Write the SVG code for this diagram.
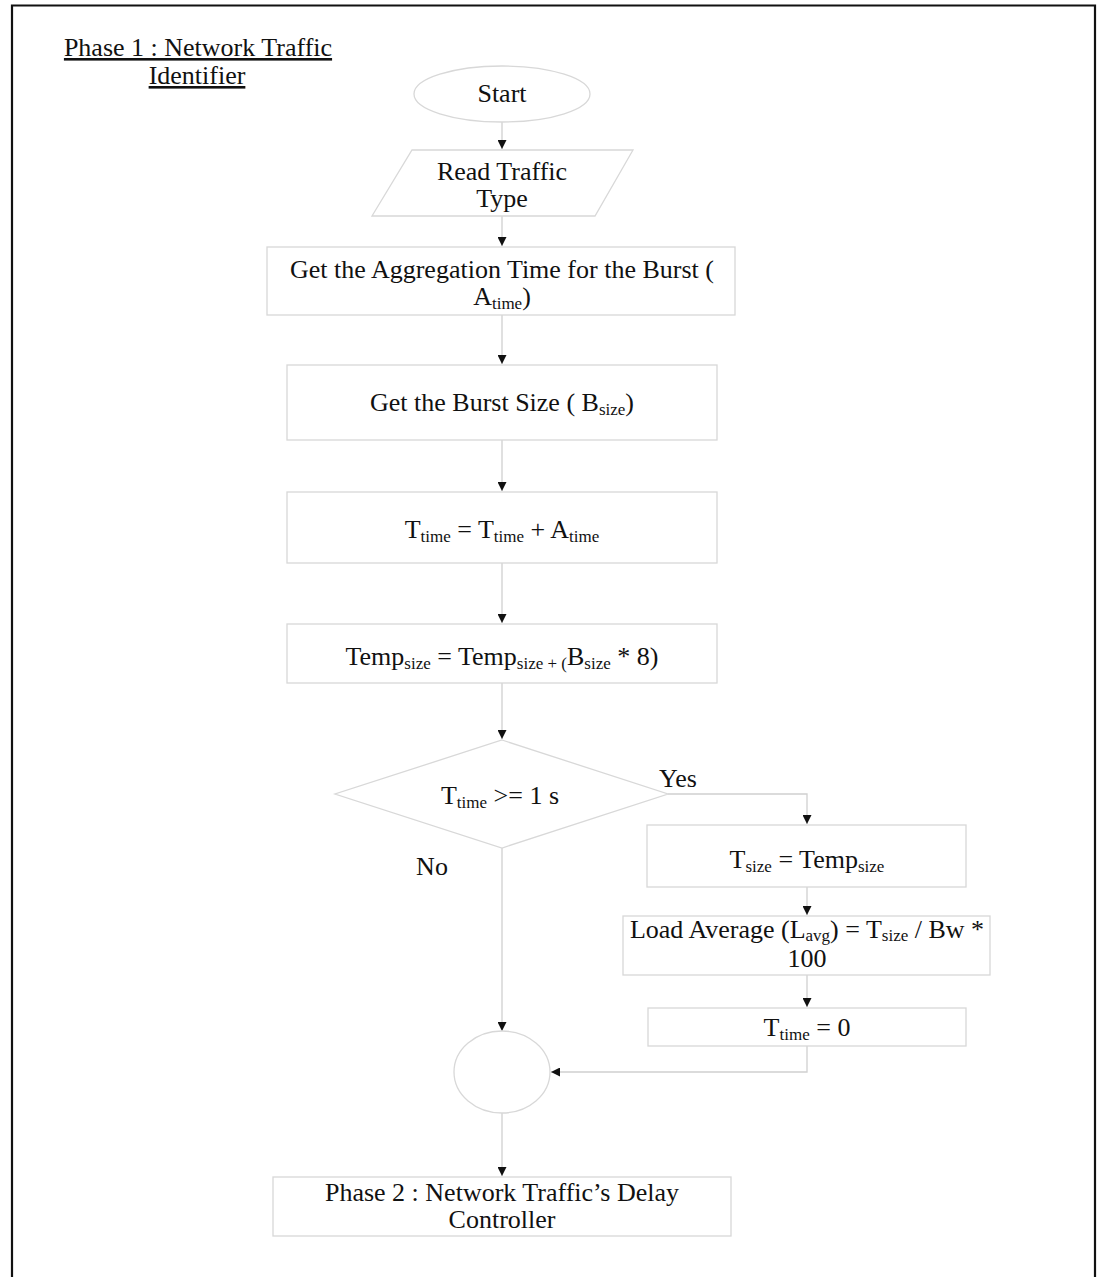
<svg xmlns="http://www.w3.org/2000/svg" width="1097" height="1277" viewBox="0 0 1097 1277">
<style>
text{font-family:"Liberation Serif","Times New Roman",serif;font-size:26px;fill:#111;text-anchor:middle}
.sub{font-size:17px}
.box{fill:#fff;stroke:#d8d8d8;stroke-width:1.3}
.ln{fill:none;stroke:#d0d0d0;stroke-width:1.3}
.u{text-decoration:underline}
</style>
<defs>
<marker id="ah" viewBox="0 0 10 10" refX="10" refY="5" markerWidth="9" markerHeight="9" markerUnits="userSpaceOnUse" orient="auto">
<path d="M0,0 L10,5 L0,10 z" fill="#111"/>
</marker>
</defs>
<rect x="0" y="0" width="1097" height="1277" fill="#fff"/>
<path d="M12,1277 V5.5 H1095 V1277" fill="none" stroke="#111" stroke-width="2.2"/>
<g id="title">
<text x="198" y="56" class="u">Phase 1 : Network Traffic</text>
<text x="197" y="84" class="u">Identifier</text>
</g>
<g id="connectors">
<path class="ln" d="M502,122 V149" marker-end="url(#ah)"/>
<path class="ln" d="M502,216 V246" marker-end="url(#ah)"/>
<path class="ln" d="M502,315 V364" marker-end="url(#ah)"/>
<path class="ln" d="M502,440 V491" marker-end="url(#ah)"/>
<path class="ln" d="M502,563 V623" marker-end="url(#ah)"/>
<path class="ln" d="M502,683 V739" marker-end="url(#ah)"/>
<path class="ln" d="M668,794 H807 V824" marker-end="url(#ah)"/>
<path class="ln" d="M807,887 V915" marker-end="url(#ah)"/>
<path class="ln" d="M807,975 V1007" marker-end="url(#ah)"/>
<path class="ln" d="M807,1046 V1072 H551" marker-end="url(#ah)"/>
<path class="ln" d="M502,848 V1031" marker-end="url(#ah)"/>
<path class="ln" d="M502,1113 V1176" marker-end="url(#ah)"/>
<text x="678" y="787">Yes</text>
<text x="432" y="875">No</text>
</g>
<g id="start">
<ellipse class="box" cx="502" cy="94" rx="88" ry="28"/>
<text x="502" y="102">Start</text>
</g>
<g id="read">
<polygon class="box" points="412,150 633,150 595,216 372,216"/>
<text x="502" y="180">Read Traffic</text>
<text x="502" y="207">Type</text>
</g>
<g id="aggr">
<rect class="box" x="267" y="247" width="468" height="68"/>
<text x="502" y="278">Get the Aggregation Time for the Burst (</text>
<text x="502" y="305">A<tspan class="sub" dy="4">time</tspan><tspan dy="-4">)</tspan></text>
</g>
<g id="burst">
<rect class="box" x="287" y="365" width="430" height="75"/>
<text x="502" y="411">Get the Burst Size ( B<tspan class="sub" dy="4">size</tspan><tspan dy="-4">)</tspan></text>
</g>
<g id="ttime">
<rect class="box" x="287" y="492" width="430" height="71"/>
<text x="502" y="538">T<tspan class="sub" dy="4">time</tspan><tspan dy="-4"> = T</tspan><tspan class="sub" dy="4">time</tspan><tspan dy="-4"> + A</tspan><tspan class="sub" dy="4">time</tspan></text>
</g>
<g id="temp">
<rect class="box" x="287" y="624" width="430" height="59"/>
<text x="502" y="665">Temp<tspan class="sub" dy="4">size</tspan><tspan dy="-4"> = Temp</tspan><tspan class="sub" dy="4">size + (</tspan><tspan dy="-4">B</tspan><tspan class="sub" dy="4">size</tspan><tspan dy="-4"> * 8)</tspan></text>
</g>
<g id="decision">
<polygon class="box" points="502,740 668,794 502,848 335,794"/>
<text x="500" y="804">T<tspan class="sub" dy="4">time</tspan><tspan dy="-4"> &gt;= 1 s</tspan></text>
</g>
<g id="tsize">
<rect class="box" x="647" y="825" width="319" height="62"/>
<text x="807" y="868">T<tspan class="sub" dy="4">size</tspan><tspan dy="-4"> = Temp</tspan><tspan class="sub" dy="4">size</tspan></text>
</g>
<g id="load">
<rect class="box" x="623" y="916" width="367" height="59"/>
<text x="807" y="938">Load Average (L<tspan class="sub" dy="3">avg</tspan><tspan dy="-3">) = T</tspan><tspan class="sub" dy="3">size</tspan><tspan dy="-3"> / Bw *</tspan></text>
<text x="807" y="967">100</text>
</g>
<g id="reset">
<rect class="box" x="648" y="1008" width="318" height="38"/>
<text x="807" y="1036">T<tspan class="sub" dy="4">time</tspan><tspan dy="-4"> = 0</tspan></text>
</g>
<g id="join">
<ellipse class="box" cx="502" cy="1072" rx="48" ry="41"/>
</g>
<g id="phase2">
<rect class="box" x="273" y="1177" width="458" height="59"/>
<text x="502" y="1201">Phase 2 : Network Traffic’s Delay</text>
<text x="502" y="1228">Controller</text>
</g>
</svg>
